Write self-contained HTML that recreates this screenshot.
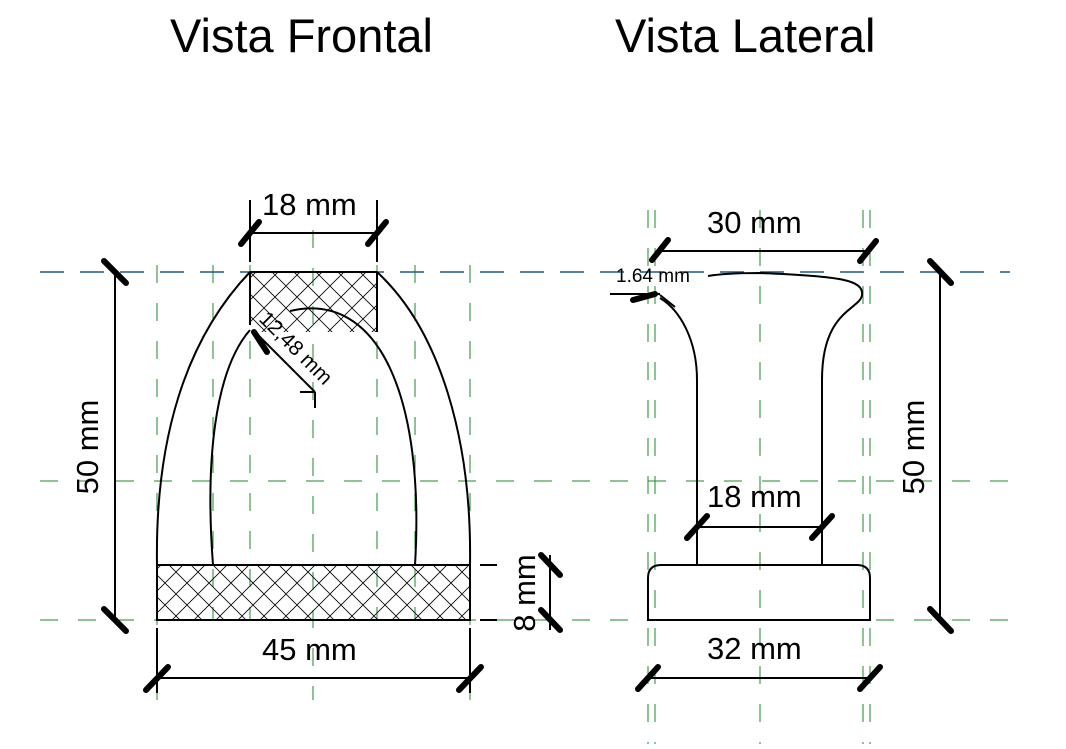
<!DOCTYPE html>
<html><head><meta charset="utf-8"><style>
body{margin:0;background:#fff}
svg text{font-family:"Liberation Sans",sans-serif;fill:#000}
</style></head><body>
<svg width="1066" height="744" viewBox="0 0 1066 744" xmlns="http://www.w3.org/2000/svg">
<defs>
<pattern id="h" width="22" height="22" patternUnits="userSpaceOnUse">
<path d="M0 0L22 22M22 0L0 22" stroke="#000" stroke-width="0.8"/>
</pattern>
</defs>
<rect width="1066" height="744" fill="#fff"/>
<text x="170" y="52" font-size="47">Vista Frontal</text>
<text x="615" y="52" font-size="47">Vista Lateral</text>

<g stroke="#1a8a2a" stroke-width="1" stroke-dasharray="18,20" fill="none">
<line x1="40" y1="481" x2="1010" y2="481"/>
<line x1="40" y1="620" x2="1010" y2="620"/>
<line x1="157" y1="265" x2="157" y2="700"/>
<line x1="213" y1="265" x2="213" y2="620"/>
<line x1="250" y1="265" x2="250" y2="620"/>
<line x1="313" y1="230" x2="313" y2="700"/>
<line x1="377" y1="265" x2="377" y2="620"/>
<line x1="415" y1="265" x2="415" y2="620"/>
<line x1="470" y1="265" x2="470" y2="700"/>
<line x1="648" y1="210" x2="648" y2="744"/>
<line x1="655" y1="210" x2="655" y2="744"/>
<line x1="760" y1="210" x2="760" y2="744"/>
<line x1="863" y1="210" x2="863" y2="744"/>
<line x1="870" y1="210" x2="870" y2="744"/>
</g>
<line x1="40" y1="272" x2="1010" y2="272" stroke="#1a5a8a" stroke-width="1.5" stroke-dasharray="24,16"/>

<rect x="250" y="272" width="127" height="60" fill="url(#h)"/>
<rect x="157" y="565" width="313" height="55" fill="url(#h)" stroke="#000" stroke-width="2"/>
<g fill="none" stroke="#000" stroke-width="2">
<line x1="250" y1="272" x2="377" y2="272"/>
<line x1="250" y1="272" x2="250" y2="325"/>
<line x1="377" y1="272" x2="377" y2="332"/>
<path d="M157 565 C155 440 185 340 250 272"/>
<path d="M470 565 C472 440 440 330 377 272"/>
<path d="M213 565 C205 460 215 370 250 330"/>
<path d="M290 311 C380 290 425 400 415 565"/>
<line x1="250" y1="200" x2="250" y2="262"/>
<line x1="377" y1="200" x2="377" y2="262"/>
<line x1="250" y1="233" x2="377" y2="233"/>
<line x1="115" y1="272" x2="115" y2="620"/>
<line x1="157" y1="628" x2="157" y2="693"/>
<line x1="470" y1="628" x2="470" y2="693"/>
<line x1="157" y1="678" x2="470" y2="678"/>
<line x1="480" y1="565" x2="497" y2="565"/>
<line x1="480" y1="620" x2="497" y2="620"/>
<line x1="550" y1="555" x2="550" y2="630"/>
<line x1="258" y1="335" x2="315" y2="392"/>
<line x1="300" y1="392" x2="315" y2="392"/>
<line x1="315" y1="392" x2="315" y2="408"/>
</g>
<g stroke="#000" stroke-width="6" stroke-linecap="round">
<line x1="241" y1="244" x2="259" y2="222"/>
<line x1="368" y1="244" x2="386" y2="222"/>
<line x1="104" y1="261" x2="126" y2="283"/>
<line x1="104" y1="609" x2="126" y2="631"/>
<line x1="146" y1="690" x2="168" y2="667"/>
<line x1="459" y1="690" x2="481" y2="667"/>
<line x1="541" y1="555" x2="560" y2="575"/>
<line x1="541" y1="610" x2="560" y2="630"/>
<line x1="254" y1="332" x2="267" y2="352"/>
</g>
<text x="262" y="215" font-size="31">18 mm</text>
<text x="262" y="660" font-size="31">45 mm</text>
<text transform="translate(98,447) rotate(-90)" font-size="31" text-anchor="middle">50 mm</text>
<text transform="translate(535,593) rotate(-90)" font-size="31" text-anchor="middle">8 mm</text>
<text transform="translate(258,320) rotate(45)" font-size="21">12,48 mm</text>

<g fill="none" stroke="#000" stroke-width="2">
<path d="M648 620 L648 578 Q648 565 661 565 L857 565 Q870 565 870 578 L870 620 Z"/>
<line x1="697" y1="565" x2="697" y2="380"/>
<line x1="822" y1="565" x2="822" y2="380"/>
<path d="M697 380 C697 340 680 310 660 298"/>
<path d="M822 380 C822 310 860 310 862 295 C864 280 840 276 760 273 C740 273 720 274 708 276"/>
<line x1="697" y1="527" x2="822" y2="527"/>
<line x1="660" y1="251" x2="868" y2="251"/>
<line x1="648" y1="678" x2="870" y2="678"/>
<line x1="940" y1="272" x2="940" y2="620"/>
<line x1="610" y1="294" x2="660" y2="294"/>
<line x1="660" y1="295" x2="675" y2="307"/>
</g>
<g stroke="#000" stroke-width="6" stroke-linecap="round">
<line x1="687" y1="538" x2="707" y2="516"/>
<line x1="812" y1="538" x2="832" y2="516"/>
<line x1="652" y1="260" x2="668" y2="240"/>
<line x1="860" y1="261" x2="876" y2="241"/>
<line x1="638" y1="689" x2="658" y2="667"/>
<line x1="860" y1="689" x2="880" y2="667"/>
<line x1="930" y1="261" x2="951" y2="283"/>
<line x1="930" y1="609" x2="951" y2="631"/>
<line x1="633" y1="300" x2="655" y2="294"/>
</g>
<text x="707" y="233" font-size="31">30 mm</text>
<text x="707" y="507" font-size="31">18 mm</text>
<text x="707" y="659" font-size="31">32 mm</text>
<text transform="translate(924,447) rotate(-90)" font-size="31" text-anchor="middle">50 mm</text>
<text x="616" y="282" font-size="19">1.64 mm</text>
</svg>
</body></html>
